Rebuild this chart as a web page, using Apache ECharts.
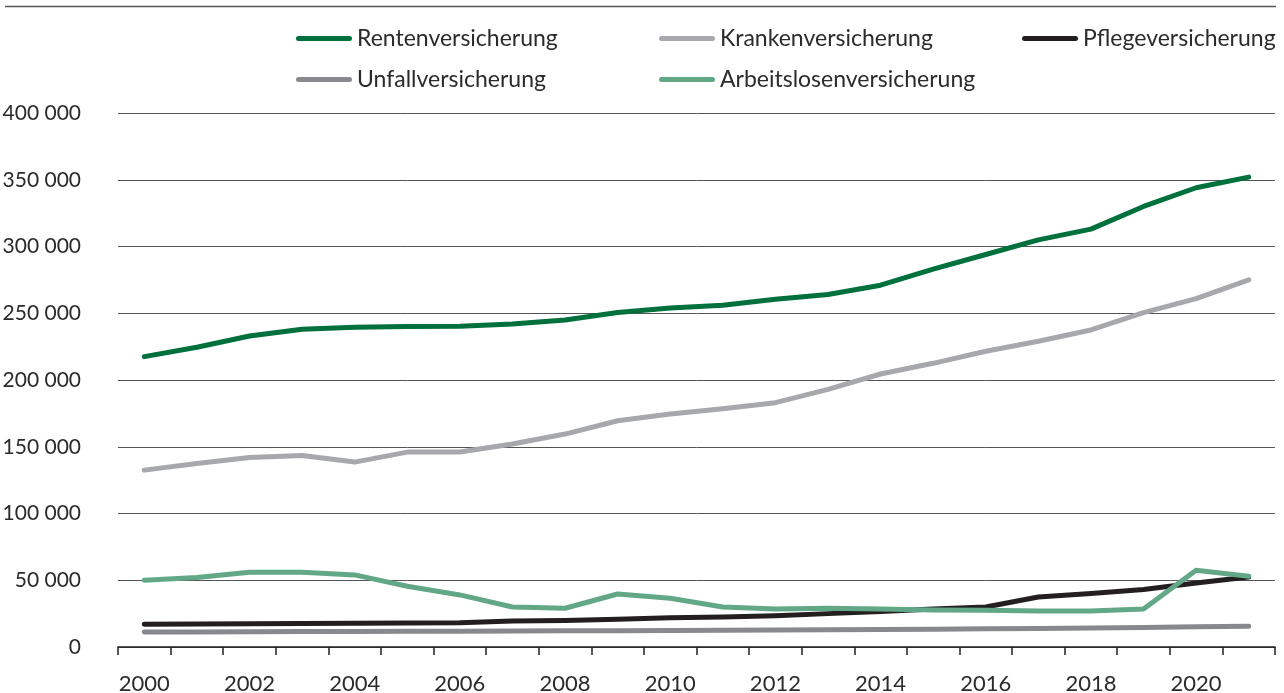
<!DOCTYPE html>
<html>
<head>
<meta charset="utf-8">
<script src="https://cdn.jsdelivr.net/npm/echarts@6/dist/echarts.min.js"></script>
<style>
  html, body { margin: 0; padding: 0; background: #fff; }
  #chart { width: 1284px; height: 693px; }
</style>
</head>
<body>
<div id="chart"></div>
<script>
// Jahre 2000 - 2021
const years = ['2000', '2001', '2002', '2003', '2004', '2005', '2006', '2007', '2008', '2009', '2010',
  '2011', '2012', '2013', '2014', '2015', '2016', '2017', '2018', '2019', '2020', '2021']

const renten = [217500, 224500, 233000, 238000, 239500, 240000, 240300, 242000, 245000, 250500, 254000,
  256000, 260500, 264000, 271000, 283000, 294000, 305000, 313000, 330000, 344000, 352000]
const kranken = [132500, 137500, 142000, 143500, 138500, 146000, 146000, 152000, 159500, 169500, 174500,
  178500, 183000, 193000, 204500, 212500, 221500, 229000, 237500, 250500, 261000, 275000]
const pflege = [17000, 17200, 17400, 17600, 17700, 18000, 18200, 19500, 19800, 20800, 22000,
  22500, 23500, 25000, 26500, 28500, 30000, 37500, 40000, 43000, 48000, 52500]
const unfall = [11200, 11300, 11500, 11600, 11700, 11800, 11800, 11900, 12100, 12200, 12400,
  12500, 12700, 12900, 13100, 13300, 13600, 13900, 14200, 14600, 15100, 15600]
const arbeitslosen = [50000, 52000, 56000, 56000, 54000, 45500, 39000, 30000, 29000, 39700, 36500,
  30000, 28500, 29000, 28500, 27700, 27500, 27000, 27000, 28500, 57500, 53000]

const seriesNames = ['Rentenversicherung', 'Krankenversicherung', 'Pflegeversicherung',
  'Unfallversicherung', 'Arbeitslosenversicherung']
const seriesData = [renten, kranken, pflege, unfall, arbeitslosen]
const colors = ['#00703c', '#a7a8ab', '#231f20', '#88898c', '#62a886']

const fontFamily = 'Lato, "Open Sans", sans-serif'
const textColor = '#2b2b2b'

let chartInstance = echarts.init(document.getElementById('chart'))

let legendBase = {
  orient: 'vertical',
  top: 27,
  padding: 0,
  itemWidth: 56,
  itemHeight: 10,
  itemGap: 18,
  icon: 'path://M2.5,0 L53.5,0 A2.5,2.5 0 0 1 53.5,5 L2.5,5 A2.5,2.5 0 0 1 2.5,0 Z',
  textStyle: {
    fontFamily: fontFamily,
    fontSize: 23,
    lineHeight: 23,
    color: textColor
  }
}

const option = {
  animation: false,
  color: colors,
  graphic: [{
    type: 'line',
    shape: {x1: 5, y1: 6.5, x2: 1276, y2: 6.5},
    style: {stroke: '#555', lineWidth: 1.5}
  }],
  legend: [
    Object.assign({}, legendBase, {left: 296, data: ['Rentenversicherung', 'Unfallversicherung']}),
    Object.assign({}, legendBase, {left: 659, data: ['Krankenversicherung', 'Arbeitslosenversicherung']}),
    Object.assign({}, legendBase, {left: 1022, data: ['Pflegeversicherung']})
  ],
  grid: {
    left: 118,
    right: 9,
    top: 113,
    bottom: 46,
    containLabel: false,
    outerBoundsMode: 'none'
  },
  xAxis: {
    type: 'category',
    data: years,
    boundaryGap: true,
    axisLine: {lineStyle: {color: '#231f20', width: 1.5}},
    axisTick: {show: true, interval: 0, length: 8, lineStyle: {color: '#231f20', width: 1.5}},
    axisLabel: {
      interval: 1,
      margin: 26,
      fontFamily: fontFamily,
      fontSize: 22,
      color: textColor
    },
    splitLine: {show: false}
  },
  yAxis: {
    type: 'value',
    min: 0,
    max: 400000,
    interval: 50000,
    axisLine: {show: false},
    axisTick: {show: false},
    axisLabel: {
      margin: 37,
      fontFamily: fontFamily,
      fontSize: 21,
      color: textColor,
      formatter: v => String(v).replace(/\B(?=(\d{3})+(?!\d))/g, ' ')
    },
    splitLine: {lineStyle: {color: '#555', width: 1}}
  },
  series: seriesNames.map((name, i) => ({
    name: name,
    type: 'line',
    data: seriesData[i],
    symbol: 'none',
    lineStyle: {width: 5, color: colors[i], cap: 'round', join: 'round'},
    itemStyle: {color: colors[i]},
    emphasis: {disabled: true}
  }))
}

chartInstance.setOption(option)
</script>
</body>
</html>
